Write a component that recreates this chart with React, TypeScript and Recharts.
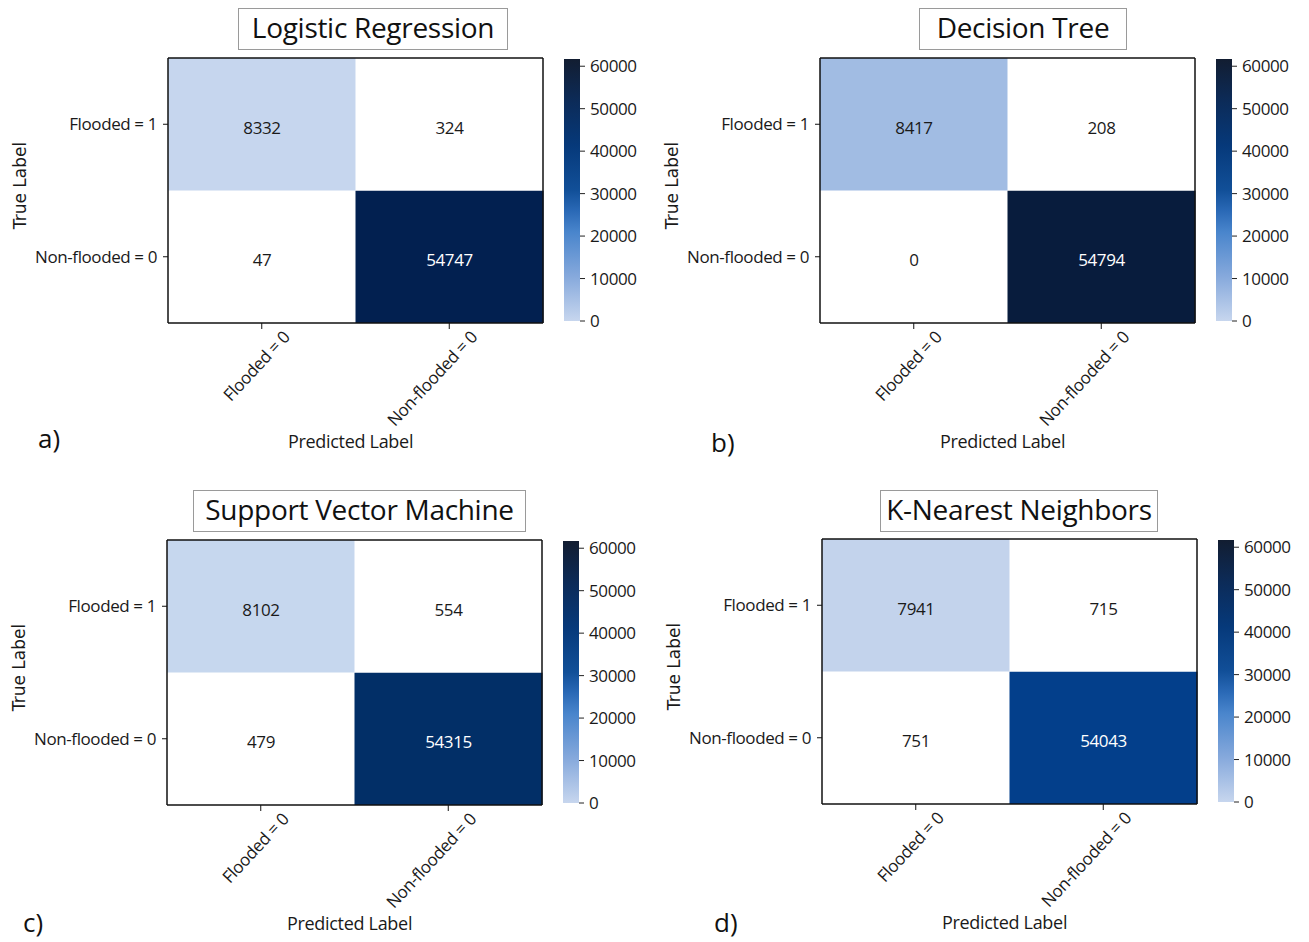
import React from "react";
import { BarChart, Bar, XAxis, YAxis, Cell, LabelList } from "recharts";

// confusion matrices: rows = true label, columns = predicted label
const predictedLabels = ["Flooded = 0", "Non-flooded = 0"];
const trueLabels = ["Flooded = 1", "Non-flooded = 0"];
const modelNames = ["Logistic Regression", "Decision Tree", "Support Vector Machine", "K-Nearest Neighbors"];
const panelTags = ["a)", "b)", "c)", "d)"];

const logisticCounts = [
  [8332, 324],
  [47, 54747],
];
const treeCounts = [
  [8417, 208],
  [0, 54794],
];
const svmCounts = [
  [8102, 554],
  [479, 54315],
];
const knnCounts = [
  [7941, 715],
  [751, 54043],
];

const colorbarTicks = [0, 10000, 20000, 30000, 40000, 50000, 60000];
const colorbarMax = 61700;

// styling (kept apart from the data)
const FONT = "'Open Sans', sans-serif";
const INK = "#1a1a1a";
const LABEL_SIZE = 17;
const TIGHT = -0.4;

const cellColors = [
  [["#c6d6ee", "#ffffff"], ["#ffffff", "#022050"]],
  [["#a1bce3", "#ffffff"], ["#ffffff", "#081c3d"]],
  [["#c6d7ee", "#ffffff"], ["#ffffff", "#022f67"]],
  [["#c3d3ec", "#ffffff"], ["#ffffff", "#033f8b"]],
];

const panelOrigins = [
  { x: 0, y: 0 },
  { x: 652, y: 0 },
  { x: -1, y: 482 },
  { x: 654, y: 481 },
];
const titleBoxes = [
  { left: 238, top: 8, width: 270 },
  { left: 267, top: 8, width: 208 },
  { left: 194, top: 8, width: 333 },
  { left: 226, top: 9, width: 278 },
];
const tagPositions = [
  { left: 38, top: 423 },
  { left: 59, top: 427 },
  { left: 24, top: 425 },
  { left: 60, top: 426 },
];

const gradientStops = [
  { offset: "0%", color: "#121d31" },
  { offset: "16%", color: "#0c2b58" },
  { offset: "33%", color: "#06397a" },
  { offset: "50%", color: "#114f98" },
  { offset: "58%", color: "#2a69b6" },
  { offset: "66%", color: "#4985cc" },
  { offset: "83%", color: "#86a9dc" },
  { offset: "100%", color: "#c7d6ee" },
];

const renderCount = (props: any) => {
  const { x, y, width, height, value } = props;
  return (
    <text
      x={x + width / 2}
      y={y + height / 2 + 3}
      textAnchor="middle"
      dominantBaseline="central"
      fontSize={LABEL_SIZE}
      letterSpacing={TIGHT}
      fontFamily={FONT}
      fill={value > 30000 ? "#ffffff" : INK}
    >
      {value}
    </text>
  );
};

const renderXTick = (props: any) => {
  const { x, y, payload } = props;
  return (
    <g transform={`translate(${x + 29},${y + 9})`}>
      <text
        transform="rotate(-47)"
        textAnchor="end"
        fontSize={LABEL_SIZE}
        letterSpacing={TIGHT}
        fontFamily={FONT}
        fill={INK}
      >
        {payload.value}
      </text>
    </g>
  );
};

function Panel({ idx, counts }: { idx: number; counts: number[][] }) {
  const origin = panelOrigins[idx];
  const box = titleBoxes[idx];
  const tag = tagPositions[idx];
  const colors = cellColors[idx];
  const gradId = `cbar-${idx}`;

  const data = predictedLabels.map((p, j) => ({
    predicted: p,
    lowerRow: 1,
    upperRow: 1,
    lowerCount: counts[1][j],
    upperCount: counts[0][j],
  }));

  const frame = { stroke: "#111", strokeWidth: 1.5 };

  return (
    <div style={{ position: "absolute", left: origin.x, top: origin.y, width: 660, height: 470 }}>
      <div
        style={{
          position: "absolute",
          left: box.left,
          top: box.top,
          width: box.width,
          height: 42,
          boxSizing: "border-box",
          border: "1px solid #9a9a9a",
          display: "flex",
          alignItems: "center",
          justifyContent: "center",
          fontFamily: FONT,
          fontSize: 28,
          letterSpacing: -0.3,
          color: "#111",
          background: "#fff",
          paddingBottom: 4,
        }}
      >
        {modelNames[idx]}
      </div>

      <div
        style={{
          position: "absolute",
          left: tag.left,
          top: tag.top,
          fontFamily: FONT,
          fontSize: 26,
          color: "#111",
          lineHeight: "30px",
        }}
      >
        {panelTags[idx]}
      </div>

      <div style={{ position: "absolute", left: 0, top: 0 }}>
        <BarChart
          width={545}
          height={470}
          data={data}
          margin={{ top: 57, right: 1, bottom: 47, left: 0 }}
          barCategoryGap={0}
          barGap={0}
        >
          <XAxis
            dataKey="predicted"
            type="category"
            height={100}
            interval={0}
            tickSize={6}
            tickMargin={0}
            tick={renderXTick}
            tickLine={{ stroke: "#111" }}
            axisLine={frame}
            label={{
              value: "Predicted Label",
              position: "bottom",
              offset: 12,
              dx: -5,
              style: { fontSize: 18, letterSpacing: -0.3, fontFamily: FONT, fill: INK },
            }}
          />
          <XAxis
            xAxisId="top"
            orientation="top"
            dataKey="predicted"
            height={1}
            tick={false}
            tickLine={false}
            axisLine={frame}
          />
          <YAxis
            type="number"
            domain={[0, 2]}
            ticks={trueLabels.map((_, i) => trueLabels.length - i - 0.5)}
            tickFormatter={(v: number) => trueLabels[trueLabels.length - 0.5 - v]}
            interval={0}
            width={168}
            tickSize={5}
            tickMargin={6}
            tick={{ fontSize: LABEL_SIZE, letterSpacing: TIGHT, fontFamily: FONT, fill: INK }}
            tickLine={{ stroke: "#111" }}
            axisLine={frame}
            label={{
              value: "True Label",
              angle: -90,
              position: "insideLeft",
              offset: 20,
              dy: -5,
              style: { textAnchor: "middle", fontSize: 17, fontFamily: "'DejaVu Sans', sans-serif", fill: INK },
            }}
          />
          <YAxis
            yAxisId="right"
            orientation="right"
            type="number"
            domain={[0, 2]}
            width={1}
            tick={false}
            tickLine={false}
            axisLine={frame}
          />
          <Bar dataKey="lowerRow" stackId="cm" isAnimationActive={false}>
            {data.map((_, j) => (
              <Cell key={`l${j}`} fill={colors[1][j]} />
            ))}
            <LabelList dataKey="lowerCount" content={renderCount} />
          </Bar>
          <Bar dataKey="upperRow" stackId="cm" isAnimationActive={false}>
            {data.map((_, j) => (
              <Cell key={`u${j}`} fill={colors[0][j]} />
            ))}
            <LabelList dataKey="upperCount" content={renderCount} />
          </Bar>
        </BarChart>
      </div>

      <div style={{ position: "absolute", left: 564, top: 49 }}>
        <BarChart
          width={92}
          height={282}
          data={[{ scale: "colorbar", top: colorbarMax }]}
          margin={{ top: 10, right: 0, bottom: 10, left: 0 }}
          barCategoryGap={0}
        >
          <defs>
            <linearGradient id={gradId} x1="0" y1="0" x2="0" y2="1">
              {gradientStops.map((s) => (
                <stop key={s.offset} offset={s.offset} stopColor={s.color} />
              ))}
            </linearGradient>
          </defs>
          <XAxis dataKey="scale" hide />
          <YAxis
            orientation="right"
            type="number"
            domain={[0, colorbarMax]}
            ticks={colorbarTicks}
            interval={0}
            width={76}
            tickSize={5}
            tickMargin={5}
            axisLine={false}
            tickLine={{ stroke: "#222" }}
            tick={{ fontSize: LABEL_SIZE, letterSpacing: TIGHT, fontFamily: FONT, fill: INK, textAnchor: "start" }}
          />
          <Bar dataKey="top" fill={`url(#${gradId})`} isAnimationActive={false} />
        </BarChart>
      </div>
    </div>
  );
}

export default function App() {
  const allCounts = [logisticCounts, treeCounts, svmCounts, knnCounts];
  return (
    <div style={{ position: "absolute", left: 0, top: 0, width: 1309, height: 942, background: "#fff" }}>
      {allCounts.map((c, i) => (
        <Panel key={modelNames[i]} idx={i} counts={c} />
      ))}
    </div>
  );
}
